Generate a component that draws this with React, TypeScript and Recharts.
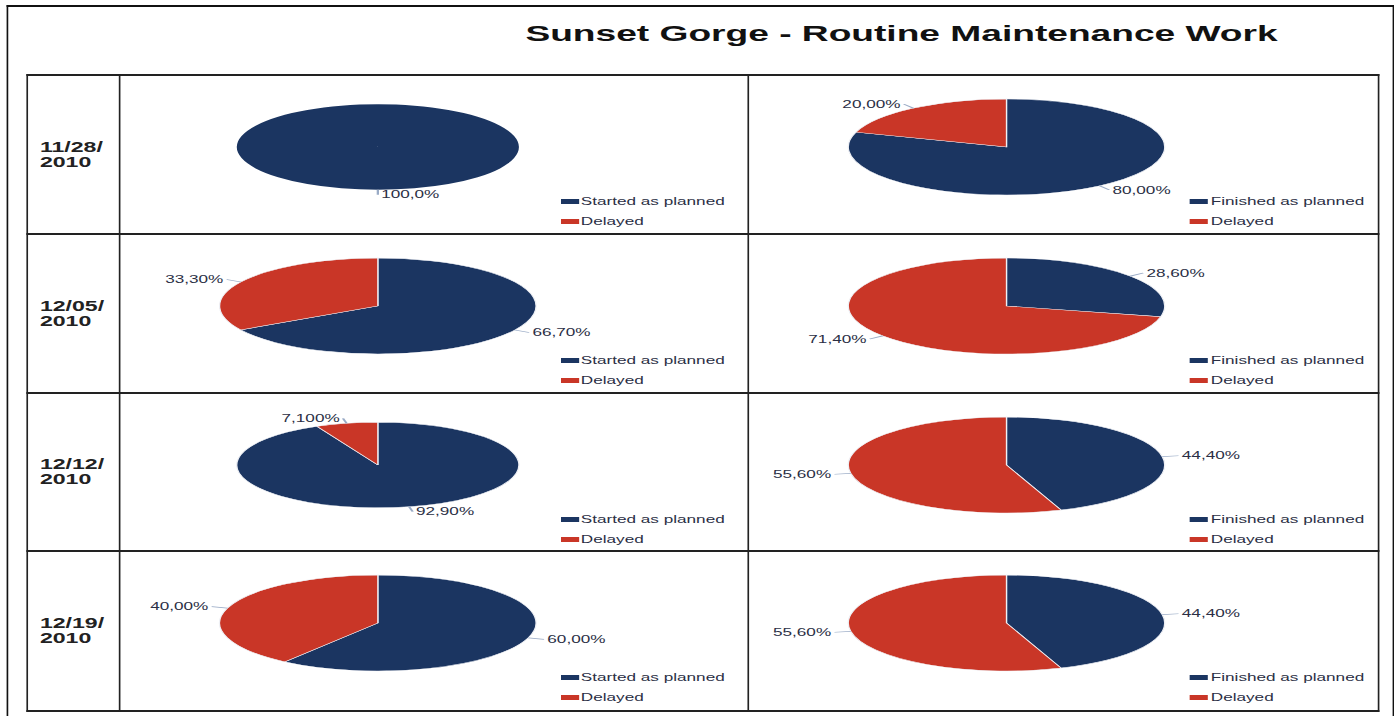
import React from 'react';
import { PieChart, Pie, Cell, Legend } from 'recharts';

const title = 'Sunset Gorge - Routine Maintenance Work';
const dates = ['11/28/2010', '12/05/2010', '12/12/2010', '12/19/2010'];
const startedNames = ['Started as planned', 'Delayed'];
const finishedNames = ['Finished as planned', 'Delayed'];
const startedPlanned = [100, 66.7, 92.9, 60];
const startedDelayed = [0, 33.3, 7.1, 40];
const finishedPlanned = [80, 28.6, 44.4, 44.4];
const finishedDelayed = [20, 71.4, 55.6, 55.6];

const COLORS = ['#1b3561', '#c93627'];
const SX = 1.65; // the reference is stretched horizontally
const BASE_W = 1394 / SX;
const K = 0.5; // vertical squash of the pies
const CY = 71;
const ROW_Y = [75, 234, 393, 551, 711];
const X_TL = 15.8;
const X_C1 = 71.5;
const X_C2 = 453.3;
const X_TR = 835.2;
const LINE = '#222';

const fmt = (v: number) => v.toPrecision(4).replace('.', ',') + '%';

function PctLabel(props: any) {
  const { cx, cy, midAngle, outerRadius, value } = props;
  if (!value) return null;
  const rad = Math.PI / 180;
  const cos = Math.cos(-midAngle * rad);
  const sin = Math.sin(-midAngle * rad);
  const x1 = cx + outerRadius * cos;
  const y1 = cy + outerRadius * sin;
  const x2 = cx + (outerRadius + 10) * cos;
  const y2 = cy + (outerRadius + 10) * sin;
  const right = cos >= 0;
  const tx = x2 + (right ? 2 : -2);
  return (
    <g>
      <line x1={x1} y1={y1} x2={x2} y2={y2} stroke="#9aabc6" strokeWidth={1.4} />
      <text
        transform={`translate(${tx} ${y2}) scale(1 ${1 / K})`}
        textAnchor={right ? 'start' : 'end'}
        dominantBaseline="central"
        fontSize={10.4}
        fill="#2b2f45"
      >
        {fmt(value)}
      </text>
    </g>
  );
}

const legendFor = (names: string[]) => (props: any) => {
  const items = [...(props.payload || [])].sort(
    (a: any, b: any) => names.indexOf(a.value) - names.indexOf(b.value)
  );
  return (
    <div>
      {items.map((entry: any, i: number) => (
        <div key={i} style={{ display: 'flex', alignItems: 'center', height: 20.5, fontSize: 10.4, color: '#2b2f45', whiteSpace: 'nowrap' }}>
          <span style={{ display: 'inline-block', width: 11, height: 5, background: entry.color || COLORS[i], marginRight: 1.5 }} />
          {entry.value}
        </div>
      ))}
    </div>
  );
};

function StatusPie({ names, values }: { names: string[]; values: number[] }) {
  const data = names.map((name, i) => ({ name, value: values[i] }));
  const total = values.reduce((s, v) => s + v, 0);
  const r = Math.min(...values) < 10 ? 85.5 : 95.9;
  return (
    <div className="squash-pie">
      <PieChart width={380} height={157} margin={{ top: 0, right: 0, bottom: 0, left: 0 }}>
        <Pie
          data={data}
          dataKey="value"
          nameKey="name"
          cx={156}
          cy={CY}
          outerRadius={r}
          startAngle={90}
          endAngle={-270}
          label={PctLabel}
          labelLine={false}
          isAnimationActive={false}
        >
          {data.map((d, i) => (
            <Cell
              key={i}
              fill={COLORS[i]}
              stroke={d.value > 0 && d.value < total ? '#eef0f5' : 'none'}
              strokeWidth={0.8}
            />
          ))}
        </Pie>
        <Legend
          layout="vertical"
          align="right"
          verticalAlign="bottom"
          content={legendFor(names)}
          wrapperStyle={{ left: 267, top: 115, right: 'auto', bottom: 'auto', width: 112 }}
        />
      </PieChart>
    </div>
  );
}

export default function App() {
  return (
    <div style={{ position: 'absolute', left: 0, top: 0, width: 1394, height: 716, overflow: 'hidden', background: '#fff' }}>
      <style>{`.squash-pie .recharts-surface { transform: scaleY(${K}); transform-origin: 0 ${CY}px; overflow: visible !important; }`}</style>
      <div
        style={{
          position: 'absolute',
          left: 0,
          top: 0,
          width: BASE_W,
          height: 716,
          transform: `scaleX(${SX})`,
          transformOrigin: '0 0',
          fontFamily: '"Liberation Sans", Arial, Helvetica, sans-serif',
        }}
      >
        {/* outer frame */}
        <div
          style={{
            position: 'absolute',
            left: 4.2,
            top: 5,
            width: 843 - 4.2,
            height: 760,
            borderTop: '2px solid #111',
            borderLeft: '1.2px solid #111',
            borderRight: '1.2px solid #111',
          }}
        />
        <div
          style={{
            position: 'absolute',
            left: 246.4,
            top: 23,
            width: 600,
            textAlign: 'center',
            fontSize: 22.5,
            lineHeight: '22.5px',
            fontWeight: 'bold',
            color: '#111',
          }}
        >
          {title}
        </div>

        {/* grid lines */}
        {ROW_Y.map((y, i) => (
          <div key={'h' + i} style={{ position: 'absolute', left: X_TL, top: y - 1, width: X_TR - X_TL + 1.2, height: 2, background: LINE }} />
        ))}
        {[X_TL, X_C1, X_C2, X_TR].map((x, i) => (
          <div key={'v' + i} style={{ position: 'absolute', left: x, top: ROW_Y[0] - 1, width: 1.2, height: ROW_Y[4] - ROW_Y[0] + 2, background: LINE }} />
        ))}

        {dates.map((d, i) => {
          const top = ROW_Y[i];
          const h = ROW_Y[i + 1] - top;
          return (
            <React.Fragment key={d}>
              <div
                style={{
                  position: 'absolute',
                  left: X_TL + 1.2,
                  top,
                  width: X_C1 - X_TL - 1.2,
                  height: h,
                  display: 'flex',
                  flexDirection: 'column',
                  justifyContent: 'center',
                  paddingLeft: 7.2,
                  boxSizing: 'border-box',
                  fontSize: 14,
                  lineHeight: '15px',
                  fontWeight: 'bold',
                  color: '#222',
                }}
              >
                <div>{d.slice(0, 6)}</div>
                <div>{d.slice(6)}</div>
              </div>
              <div style={{ position: 'absolute', left: X_C1 + 1, top: top + 1 }}>
                <StatusPie names={startedNames} values={[startedPlanned[i], startedDelayed[i]]} />
              </div>
              <div style={{ position: 'absolute', left: X_C2 + 1, top: top + 1 }}>
                <StatusPie names={finishedNames} values={[finishedPlanned[i], finishedDelayed[i]]} />
              </div>
            </React.Fragment>
          );
        })}
      </div>
    </div>
  );
}
